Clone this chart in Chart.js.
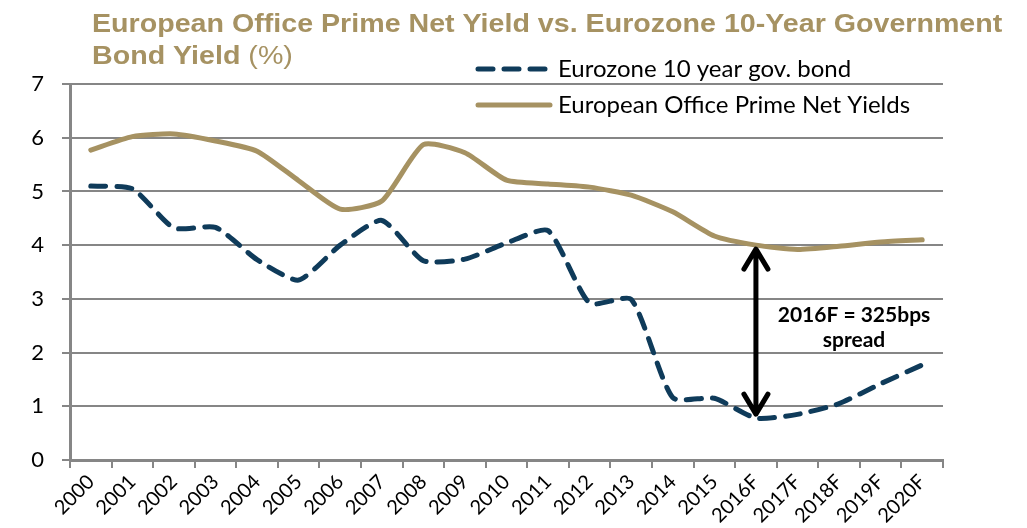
<!DOCTYPE html>
<html>
<head>
<meta charset="utf-8">
<script src="https://cdn.jsdelivr.net/npm/chart.js@4.4.1/dist/chart.umd.min.js"></script>
<style>
  html, body { margin: 0; padding: 0; background: #ffffff; }
  #wrap { width: 1027px; height: 528px; }
</style>
</head>
<body>
<div id="wrap"><canvas id="yieldChart" width="1027" height="528"></canvas></div>
<script>
// Data
const years = ["2000", "2001", "2002", "2003", "2004", "2005", "2006", "2007", "2008", "2009", "2010",
  "2011", "2012", "2013", "2014", "2015", "2016F", "2017F", "2018F", "2019F", "2020F"];
const bondYield = [5.10, 5.05, 4.32, 4.33, 3.73, 3.35, 4.00, 4.46, 3.71, 3.74, 4.04,
  4.27, 2.92, 2.99, 1.16, 1.15, 0.78, 0.85, 1.05, 1.42, 1.77];
const officeYield = [5.77, 6.02, 6.07, 5.94, 5.75, 5.20, 4.67, 4.82, 5.87, 5.72, 5.21,
  5.14, 5.08, 4.93, 4.62, 4.17, 4.00, 3.92, 3.98, 4.06, 4.10];
const yTicks = [0, 1, 2, 3, 4, 5, 6, 7];
const spreadYear = "2016F";
const spreadText = ["2016F = 325bps", "spread"];

const blue = "#0f3b5a";
const tan = "#a69262";
const axisGray = "#868686";
const bodyFont = "Lato, 'Open Sans', sans-serif";

// Title, legend and spread arrow drawn on top of the chart
const extrasPlugin = {
  id: "extras",
  afterDraw(chart) {
    const ctx = chart.ctx;
    const x = chart.scales.x;
    const y = chart.scales.y;
    ctx.save();

    // title (slightly stretched sideways like the original)
    ctx.save();
    ctx.translate(92, 0);
    ctx.scale(1.08, 1);
    ctx.fillStyle = tan;
    ctx.textBaseline = "alphabetic";
    ctx.textAlign = "left";
    ctx.font = "bold 26.5px 'Liberation Sans', Arial, sans-serif";
    ctx.fillText("European Office Prime Net Yield vs. Eurozone 10-Year Government", 0, 32);
    ctx.fillText("Bond Yield ", 0, 64);
    const w = ctx.measureText("Bond Yield ").width;
    ctx.font = "26.5px 'Liberation Sans', Arial, sans-serif";
    ctx.fillText("(%)", w, 64);
    ctx.restore();

    // legend
    const ds = chart.data.datasets;
    ctx.font = "24px " + bodyFont;
    ctx.textBaseline = "middle";
    ctx.fillStyle = "#000000";
    ctx.lineCap = "round";
    ctx.lineWidth = 5;
    ctx.strokeStyle = ds[0].borderColor;
    ctx.setLineDash([15, 11]);
    ctx.beginPath();
    ctx.moveTo(478, 69);
    ctx.lineTo(545, 69);
    ctx.stroke();
    ctx.setLineDash([]);
    ctx.fillText(ds[0].label, 558, 69);
    ctx.strokeStyle = ds[1].borderColor;
    ctx.beginPath();
    ctx.moveTo(478, 105);
    ctx.lineTo(550, 105);
    ctx.stroke();
    ctx.fillText(ds[1].label, 558, 105);

    // spread arrow
    const i = years.indexOf(spreadYear);
    const ax = x.getPixelForValue(i);
    const top = y.getPixelForValue(officeYield[i]) + 4;
    const bottom = y.getPixelForValue(bondYield[i]) - 4;
    ctx.strokeStyle = "#000000";
    ctx.lineWidth = 5;
    ctx.lineCap = "round";
    ctx.lineJoin = "round";
    ctx.beginPath();
    ctx.moveTo(ax, top);
    ctx.lineTo(ax, bottom);
    ctx.moveTo(ax - 12, top + 20);
    ctx.lineTo(ax, top);
    ctx.lineTo(ax + 12, top + 20);
    ctx.moveTo(ax - 12, bottom - 20);
    ctx.lineTo(ax, bottom);
    ctx.lineTo(ax + 12, bottom - 20);
    ctx.stroke();

    ctx.font = "bold 21px " + bodyFont;
    ctx.textAlign = "center";
    ctx.textBaseline = "alphabetic";
    ctx.fillText(spreadText[0], 854, 322);
    ctx.fillText(spreadText[1], 854, 347);
    ctx.restore();
  }
};

const ctx = document.getElementById("yieldChart").getContext("2d");
new Chart(ctx, {
  type: "line",
  data: {
    labels: years,
    datasets: [
      {
        label: "Eurozone 10 year gov. bond",
        data: bondYield,
        borderColor: blue,
        borderWidth: 5,
        borderDash: [15, 11],
        borderCapStyle: "round",
        pointRadius: 0,
        tension: 0.2,
        fill: false
      },
      {
        label: "European Office Prime Net Yields",
        data: officeYield,
        borderColor: tan,
        borderWidth: 5,
        borderCapStyle: "round",
        pointRadius: 0,
        tension: 0.2,
        fill: false
      }
    ]
  },
  options: {
    responsive: false,
    animation: false,
    layout: { padding: { top: 84, right: 84, left: 0, bottom: 0 } },
    plugins: {
      legend: { display: false },
      title: { display: false },
      tooltip: { enabled: false }
    },
    scales: {
      x: {
        offset: true,
        grid: { offset: true, drawOnChartArea: false, drawTicks: true, tickLength: 8, color: axisGray, lineWidth: 2 },
        border: { color: axisGray, width: 3 },
        ticks: {
          color: "#000000",
          font: { family: bodyFont, size: 20 },
          minRotation: 45,
          maxRotation: 45,
          autoSkip: false,
          padding: 2
        },
        afterFit(scale) { scale.height = 68; }
      },
      y: {
        min: 0,
        max: 7,
        afterBuildTicks(scale) { scale.ticks = yTicks.map(v => ({ value: v })); },
        grid: { color: axisGray, lineWidth: 2, tickLength: 8 },
        border: { color: axisGray, width: 3 },
        ticks: {
          color: "#000000",
          font: { family: bodyFont, size: 22 },
          padding: 18
        },
        afterFit(scale) { scale.width = 70; }
      }
    }
  },
  plugins: [extrasPlugin]
});
</script>
</body>
</html>
